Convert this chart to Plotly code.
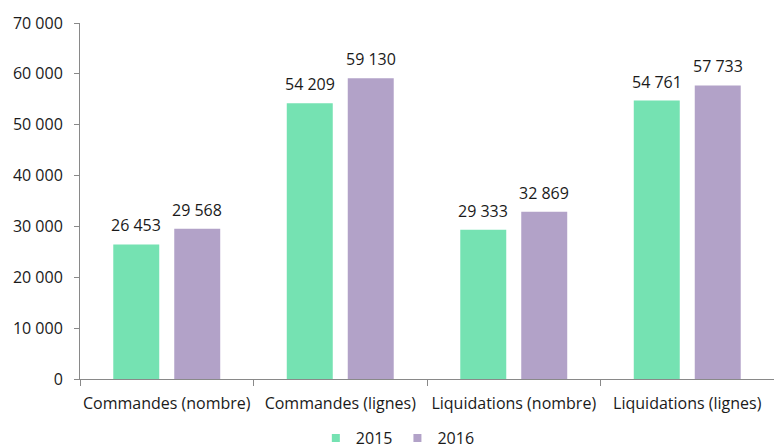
import plotly.graph_objects as go

categories = ["Commandes (nombre)", "Commandes (lignes)", "Liquidations (nombre)", "Liquidations (lignes)"]
values_2015 = [26453, 54209, 29333, 54761]
values_2016 = [29568, 59130, 32869, 57733]
series_names = ["2015", "2016"]
tick_values = [0, 10000, 20000, 30000, 40000, 50000, 60000, 70000]

colors = ["#75E2B2", "#B2A2C8"]
FONT = "'Open Sans', sans-serif"
TXT = "#1a1a1a"
FS = 16

def fmt(v):
    return f"{v:,}".replace(",", " ")

fig = go.Figure()
for name, vals, col in zip(series_names, [values_2015, values_2016], colors):
    fig.add_trace(go.Bar(x=categories, y=vals, name=name, showlegend=False,
                         marker=dict(color=col, line=dict(width=0))))
# legend entries with small square swatches
for name, col in zip(series_names, colors):
    fig.add_trace(go.Scatter(x=[None], y=[None], mode="markers", name=name,
                             marker=dict(symbol="square", size=8, color=col)))

annotations = []
for shift, vals in zip([-30.5, 30.5], [values_2015, values_2016]):
    for c, v in zip(categories, vals):
        annotations.append(dict(x=c, y=v, xref="x", yref="y", text=fmt(v), showarrow=False,
                                xshift=shift, yshift=6, yanchor="bottom",
                                font=dict(family=FONT, size=FS, color=TXT)))

fig.update_layout(
    width=774, height=448,
    margin=dict(l=80, r=0, t=23, b=69),
    paper_bgcolor="white", plot_bgcolor="white",
    barmode="group", bargap=0.297, bargroupgap=0.246,
    font=dict(family=FONT, size=FS, color=TXT),
    annotations=annotations,
    showlegend=True,
    legend=dict(orientation="h", xref="container", yref="container", x=0.514, y=0.022,
                xanchor="center", yanchor="middle", font=dict(family=FONT, size=FS, color=TXT),
                itemwidth=30, traceorder="normal", tracegroupgap=0),
    xaxis=dict(showline=True, linecolor="#898989", linewidth=1, ticks="outside", tickson="boundaries",
               ticklen=6, tickcolor="#898989", showgrid=False, fixedrange=True, ticklabelstandoff=10,
               tickangle=0, automargin=False,
               tickfont=dict(family=FONT, size=FS, color=TXT)),
    yaxis=dict(range=[0, 70000], tickvals=tick_values, ticktext=[fmt(v) for v in tick_values],
               showline=True, linecolor="#898989", linewidth=1, ticks="outside", ticklen=5,
               tickcolor="#898989", showgrid=False, zeroline=False, ticklabelstandoff=8,
               automargin=False, tickfont=dict(family=FONT, size=FS, color=TXT)),
)

fig.write_html("out.html")
